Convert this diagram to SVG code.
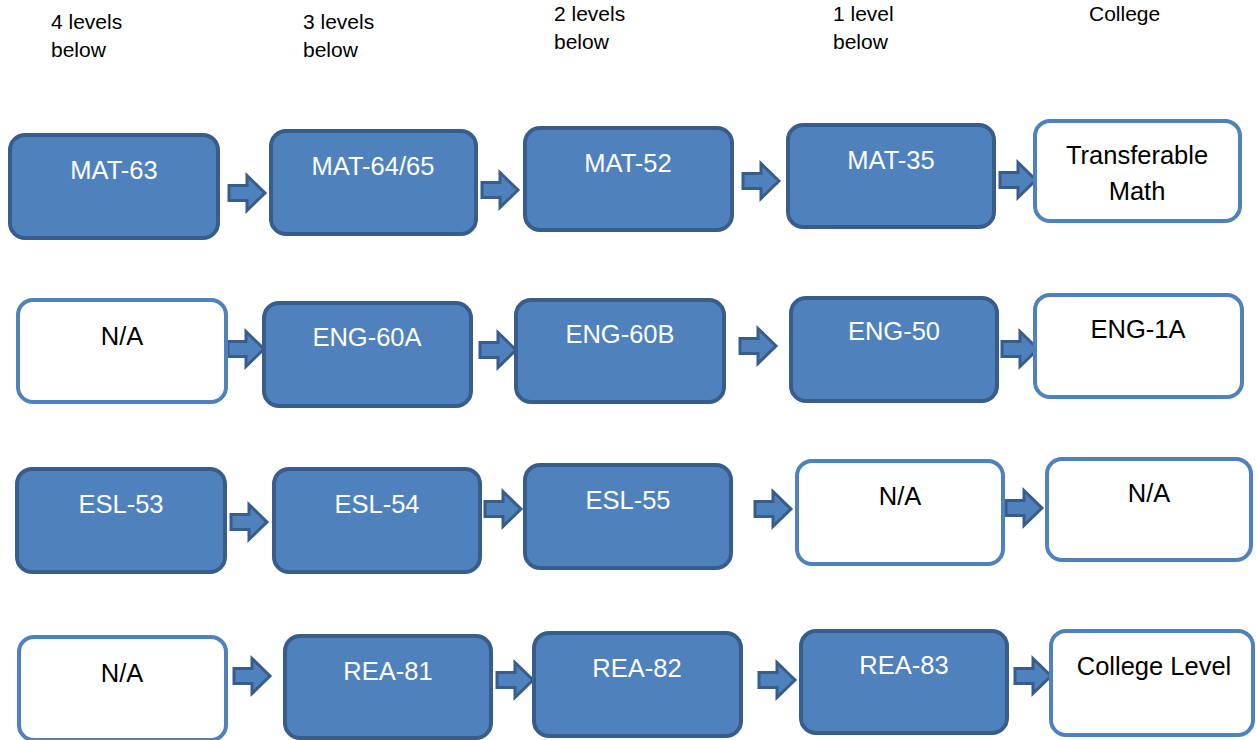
<svg xmlns="http://www.w3.org/2000/svg" xmlns:xlink="http://www.w3.org/1999/xlink" width="1256" height="740" viewBox="0 0 1256 740">
  <style>
    .hdr { font-family: "Liberation Sans", Arial, sans-serif; font-size: 21px; fill: #000; }
    .lbl { font-family: "Liberation Sans", Arial, sans-serif; font-size: 25.5px; text-anchor: middle; }
    .filled rect { fill: #4F81BD; stroke: #385D8A; stroke-width: 4; }
    .filled text { fill: #FFFFFF; }
    .open rect { fill: #FFFFFF; stroke: #4F81BD; stroke-width: 4; }
    .open text { fill: #000000; }
    .arrow { fill: #4F81BD; stroke: #385D8A; stroke-width: 3; stroke-linejoin: miter; }
  </style>
  <defs>
    <!-- block arrow, left edge at x=0, vertical centre at y=0 -->
    <path id="blockArrow" class="arrow" d="M0,-7.5 H18 V-17.5 L36,0 L18,17.5 V7.5 H0 Z"/>
  </defs>

  <rect width="1256" height="740" fill="#FFFFFF"/>

  <!-- column headings -->
  <g id="headings">
    <text class="hdr" x="51" y="29">4 levels</text>
    <text class="hdr" x="51" y="57">below</text>
    <text class="hdr" x="303" y="29">3 levels</text>
    <text class="hdr" x="303" y="57">below</text>
    <text class="hdr" x="554" y="21">2 levels</text>
    <text class="hdr" x="554" y="49">below</text>
    <text class="hdr" x="833" y="21">1 level</text>
    <text class="hdr" x="833" y="49">below</text>
    <text class="hdr" x="1089" y="21">College</text>
  </g>

  <!-- connectors -->
  <g id="connectors">
    <use xlink:href="#blockArrow" x="229" y="193"/>
    <use xlink:href="#blockArrow" x="482" y="190"/>
    <use xlink:href="#blockArrow" x="743" y="181"/>
    <use xlink:href="#blockArrow" x="1000" y="180"/>

    <use xlink:href="#blockArrow" x="228" y="349"/>
    <use xlink:href="#blockArrow" x="480" y="350"/>
    <use xlink:href="#blockArrow" x="740" y="346"/>
    <use xlink:href="#blockArrow" x="1002" y="349"/>

    <use xlink:href="#blockArrow" x="231" y="522"/>
    <use xlink:href="#blockArrow" x="485" y="509"/>
    <use xlink:href="#blockArrow" x="755" y="509"/>
    <use xlink:href="#blockArrow" x="1006" y="508"/>

    <use xlink:href="#blockArrow" x="234" y="676"/>
    <use xlink:href="#blockArrow" x="497" y="680"/>
    <use xlink:href="#blockArrow" x="759" y="680"/>
    <use xlink:href="#blockArrow" x="1015" y="676"/>
  </g>

  <!-- row 1: math -->
  <g id="mat63" class="filled">
    <rect x="10" y="135" width="208" height="103" rx="15"/>
    <text class="lbl" x="114" y="179">MAT-63</text>
  </g>
  <g id="mat6465" class="filled">
    <rect x="271" y="131" width="205" height="103" rx="15"/>
    <text class="lbl" x="373" y="175">MAT-64/65</text>
  </g>
  <g id="mat52" class="filled">
    <rect x="525" y="128" width="207" height="102" rx="15"/>
    <text class="lbl" x="628" y="172">MAT-52</text>
  </g>
  <g id="mat35" class="filled">
    <rect x="788" y="125" width="206" height="102" rx="15"/>
    <text class="lbl" x="891" y="169">MAT-35</text>
  </g>
  <g id="transferMath" class="open">
    <rect x="1035" y="121" width="205" height="100" rx="15"/>
    <text class="lbl" x="1137" y="164">Transferable</text>
    <text class="lbl" x="1137" y="200">Math</text>
  </g>

  <!-- row 2: english -->
  <g id="engNA" class="open">
    <rect x="18" y="300" width="208" height="102" rx="15"/>
    <text class="lbl" x="122" y="345">N/A</text>
  </g>
  <g id="eng60a" class="filled">
    <rect x="264" y="303" width="207" height="103" rx="15"/>
    <text class="lbl" x="367" y="346">ENG-60A</text>
  </g>
  <g id="eng60b" class="filled">
    <rect x="516" y="300" width="208" height="102" rx="15"/>
    <text class="lbl" x="620" y="343">ENG-60B</text>
  </g>
  <g id="eng50" class="filled">
    <rect x="791" y="298" width="206" height="103" rx="15"/>
    <text class="lbl" x="894" y="340">ENG-50</text>
  </g>
  <g id="eng1a" class="open">
    <rect x="1035" y="295" width="207" height="102" rx="15"/>
    <text class="lbl" x="1138" y="338">ENG-1A</text>
  </g>

  <!-- row 3: esl -->
  <g id="esl53" class="filled">
    <rect x="17" y="469" width="208" height="103" rx="15"/>
    <text class="lbl" x="121" y="513">ESL-53</text>
  </g>
  <g id="esl54" class="filled">
    <rect x="274" y="469" width="206" height="103" rx="15"/>
    <text class="lbl" x="377" y="513">ESL-54</text>
  </g>
  <g id="esl55" class="filled">
    <rect x="525" y="465" width="206" height="103" rx="15"/>
    <text class="lbl" x="628" y="509">ESL-55</text>
  </g>
  <g id="eslNA1" class="open">
    <rect x="797" y="461" width="206" height="103" rx="15"/>
    <text class="lbl" x="900" y="505">N/A</text>
  </g>
  <g id="eslNA2" class="open">
    <rect x="1047" y="459" width="204" height="101" rx="15"/>
    <text class="lbl" x="1149" y="502">N/A</text>
  </g>

  <!-- row 4: reading -->
  <g id="reaNA" class="open">
    <rect x="19" y="637" width="207" height="103" rx="15"/>
    <text class="lbl" x="122" y="682">N/A</text>
  </g>
  <g id="rea81" class="filled">
    <rect x="285" y="636" width="206" height="102" rx="15"/>
    <text class="lbl" x="388" y="680">REA-81</text>
  </g>
  <g id="rea82" class="filled">
    <rect x="534" y="633" width="207" height="103" rx="15"/>
    <text class="lbl" x="637" y="677">REA-82</text>
  </g>
  <g id="rea83" class="filled">
    <rect x="801" y="631" width="206" height="102" rx="15"/>
    <text class="lbl" x="904" y="674">REA-83</text>
  </g>
  <g id="collegeLevel" class="open">
    <rect x="1051" y="631" width="202" height="104" rx="15"/>
    <text class="lbl" x="1154" y="675">College Level</text>
  </g>
</svg>
